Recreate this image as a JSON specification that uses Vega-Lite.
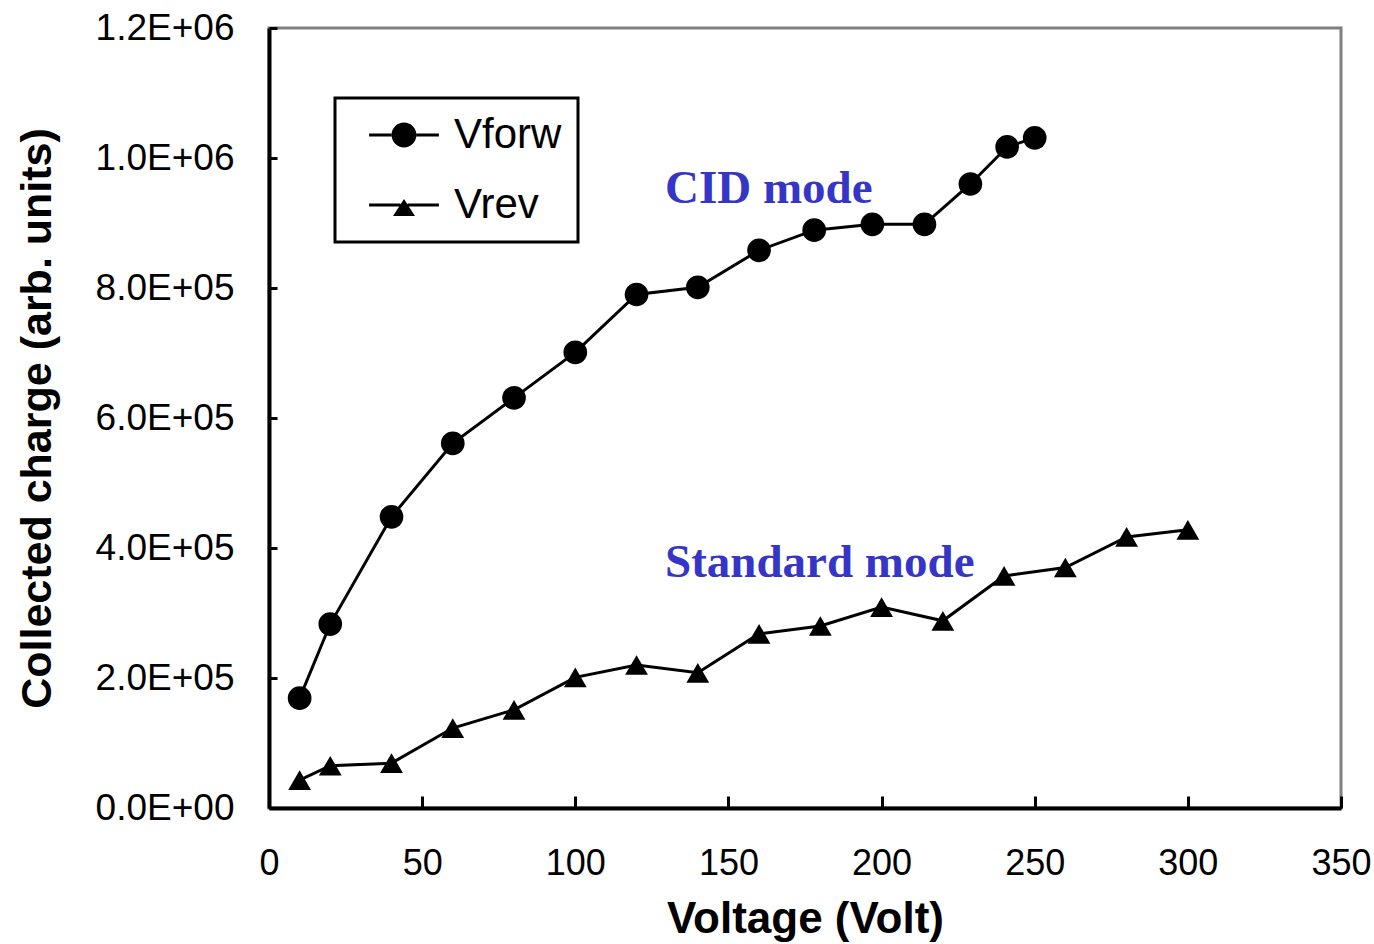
{
  "$schema": "https://vega.github.io/schema/vega-lite/v6.json",
  "width": 1072,
  "height": 780,
  "autosize": {"type": "none"},
  "padding": {"left": 269, "top": 28, "right": 33, "bottom": 136},
  "background": "white",
  "config": {
    "view": {"stroke": "#808080", "strokeWidth": 3},
    "font": "Liberation Sans",
    "legend": {"strokeWidth": 3}
  },
  "datasets": {
    "series": [
      {"series": "Vforw", "voltage": 10, "charge": 169000},
      {"series": "Vforw", "voltage": 20, "charge": 283000},
      {"series": "Vforw", "voltage": 40, "charge": 448000},
      {"series": "Vforw", "voltage": 60, "charge": 561000},
      {"series": "Vforw", "voltage": 80, "charge": 631000},
      {"series": "Vforw", "voltage": 100, "charge": 701000},
      {"series": "Vforw", "voltage": 120, "charge": 790000},
      {"series": "Vforw", "voltage": 140, "charge": 801000},
      {"series": "Vforw", "voltage": 160, "charge": 858000},
      {"series": "Vforw", "voltage": 178, "charge": 889000},
      {"series": "Vforw", "voltage": 197, "charge": 898000},
      {"series": "Vforw", "voltage": 214, "charge": 898000},
      {"series": "Vforw", "voltage": 229, "charge": 960000},
      {"series": "Vforw", "voltage": 241, "charge": 1017000},
      {"series": "Vforw", "voltage": 250, "charge": 1031000},
      {"series": "Vrev", "voltage": 10, "charge": 43000},
      {"series": "Vrev", "voltage": 20, "charge": 65000},
      {"series": "Vrev", "voltage": 40, "charge": 69000},
      {"series": "Vrev", "voltage": 60, "charge": 123000},
      {"series": "Vrev", "voltage": 80, "charge": 151000},
      {"series": "Vrev", "voltage": 100, "charge": 201000},
      {"series": "Vrev", "voltage": 120, "charge": 220000},
      {"series": "Vrev", "voltage": 140, "charge": 208000},
      {"series": "Vrev", "voltage": 160, "charge": 268000},
      {"series": "Vrev", "voltage": 180, "charge": 280000},
      {"series": "Vrev", "voltage": 200, "charge": 309000},
      {"series": "Vrev", "voltage": 220, "charge": 288000},
      {"series": "Vrev", "voltage": 240, "charge": 357000},
      {"series": "Vrev", "voltage": 260, "charge": 370000},
      {"series": "Vrev", "voltage": 280, "charge": 417000},
      {"series": "Vrev", "voltage": 300, "charge": 428000}
    ],
    "notes": [
      {"label": "CID mode", "voltage": 129.3, "charge": 931000},
      {"label": "Standard mode", "voltage": 129.3, "charge": 355000}
    ]
  },
  "encoding": {
    "x": {
      "field": "voltage", "type": "quantitative",
      "scale": {"domain": [0, 350], "nice": false, "zero": false},
      "axis": {
        "title": "Voltage (Volt)",
        "values": [0, 50, 100, 150, 200, 250, 300, 350],
        "grid": false,
        "domainColor": "black", "domainWidth": 4,
        "tickColor": "black", "tickWidth": 3, "tickSize": -12,
        "labelFont": "Liberation Sans", "labelFontSize": 36, "labelColor": "black",
        "labelPadding": 50, "labelFlush": false,
        "titleFont": "Liberation Sans", "titleFontSize": 44, "titleFontWeight": "bold",
        "titleColor": "black", "titlePadding": 16
      }
    },
    "y": {
      "field": "charge", "type": "quantitative",
      "scale": {"domain": [0, 1200000], "nice": false},
      "axis": {
        "title": "Collected charge (arb. units)",
        "values": [0, 200000, 400000, 600000, 800000, 1000000, 1200000],
        "grid": false,
        "domainColor": "black", "domainWidth": 4,
        "tickColor": "black", "tickWidth": 3, "tickSize": -8,
        "labelFont": "Liberation Sans", "labelFontSize": 37, "labelColor": "black",
        "labelPadding": 43, "labelFlush": false,
        "labelExpr": "datum.value == 0 ? '0.0E+00' : (datum.value < 1000000 ? format(datum.value / 100000, '.1f') + 'E+05' : format(datum.value / 1000000, '.1f') + 'E+06')",
        "titleFont": "Liberation Sans", "titleFontSize": 43, "titleFontWeight": "bold",
        "titleColor": "black", "titlePadding": 36
      }
    }
  },
  "layer": [
    {
      "data": {"name": "series"},
      "mark": {"type": "line", "color": "black", "strokeWidth": 3},
      "encoding": {"detail": {"field": "series", "type": "nominal"}}
    },
    {
      "data": {"name": "series"},
      "mark": {"type": "point", "filled": true, "color": "black", "opacity": 1},
      "encoding": {
        "shape": {
          "field": "series", "type": "nominal",
          "scale": {"domain": ["Vforw", "Vrev"], "range": ["circle", "triangle-up"]},
          "legend": null
        },
        "size": {
          "field": "series", "type": "nominal",
          "scale": {"domain": ["Vforw", "Vrev"], "range": [560, 520]},
          "legend": null
        }
      }
    },
    {
      "data": {"name": "series"},
      "transform": [{"filter": "false"}],
      "mark": {"type": "point", "filled": true, "color": "black", "opacity": 1},
      "encoding": {
        "shape": {
          "field": "series", "type": "nominal",
          "scale": {
            "domain": ["Vforw", "Vrev"],
            "range": [
              "M-1.94,-0.08L-0.68,-0.08L-0.68,0.08L-1.94,0.08ZM0.68,-0.08L1.94,-0.08L1.94,0.08L0.68,0.08ZM-0.69,0A0.69,0.69,0,1,0,0.69,0A0.69,0.69,0,1,0,-0.69,0Z",
              "M-1.94,-0.08L-0.2,-0.08L-0.2,0.08L-1.94,0.08ZM0.2,-0.08L1.94,-0.08L1.94,0.08L0.2,0.08ZM0,-0.33L0.61,0.61L-0.61,0.61Z"
            ]
          },
          "legend": {
            "title": null,
            "orient": "none",
            "legendX": 66,
            "legendY": 70,
            "padding": 16,
            "strokeColor": "black",
            "fillColor": "white",
            "symbolSize": 1296,
            "symbolFillColor": "black",
            "symbolStrokeWidth": 0,
            "symbolOpacity": 1,
            "symbolOffset": 32,
            "labelOffset": 29,
            "rowPadding": 28,
            "labelFont": "Liberation Sans",
            "labelFontSize": 42,
            "labelColor": "black",
            "encode": {
              "legend": {"update": {"strokeWidth": {"value": 3}}},
              "symbols": {"update": {"fill": {"value": "black"}, "fillOpacity": {"value": 1}}}
            }
          }
        }
      }
    },
    {
      "data": {"name": "notes"},
      "mark": {
        "type": "text", "align": "left", "baseline": "alphabetic",
        "font": "Liberation Serif", "fontWeight": "bold", "fontSize": 47,
        "color": "#3535C8"
      },
      "encoding": {"text": {"field": "label", "type": "nominal"}}
    }
  ],
  "resolve": {"scale": {"shape": "independent", "size": "independent"}, "legend": {"shape": "independent"}}
}
